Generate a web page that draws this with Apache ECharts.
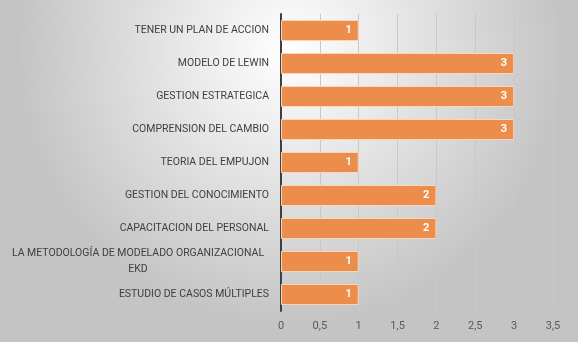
<!DOCTYPE html>
<html><head><meta charset="utf-8">
<script src="https://cdn.jsdelivr.net/npm/echarts@6/dist/echarts.min.js"></script>
<style>html,body{margin:0;padding:0;}#c{width:578px;height:342px;}</style>
</head><body><div id="c"></div>
<script>
const categories = [
  "ESTUDIO DE CASOS MÚLTIPLES",
  "LA METODOLOGÍA DE MODELADO ORGANIZACIONAL\nEKD",
  "CAPACITACION DEL PERSONAL",
  "GESTION DEL CONOCIMIENTO",
  "TEORIA DEL EMPUJON",
  "COMPRENSION DEL CAMBIO",
  "GESTION ESTRATEGICA",
  "MODELO DE LEWIN",
  "TENER UN PLAN DE ACCION"
];
const values = [1, 1, 2, 2, 1, 3, 3, 3, 1];
const xTicks = { min: 0, max: 3.5, interval: 0.5 };

const font = "Roboto, 'Liberation Sans', sans-serif";
const chart = echarts.init(document.getElementById('c'));
chart.setOption({
  backgroundColor: {
    type: 'radial', x: 0.5, y: 0.15, r: 0.8,
    colorStops: [{ offset: 0, color: '#ffffff' }, { offset: 1, color: '#c4c4c4' }]
  },
  grid: { left: 281, right: 25, top: 14, bottom: 31, containLabel: false, outerBoundsMode: 'none' },
  xAxis: {
    type: 'value', min: xTicks.min, max: xTicks.max, interval: xTicks.interval,
    axisLine: { show: false }, axisTick: { show: false },
    splitLine: { show: true, lineStyle: { color: '#c8c8c8', width: 1 } },
    axisLabel: {
      color: '#595959', fontSize: 11, fontFamily: font, margin: 10,
      formatter: v => String(v).replace('.', ',')
    }
  },
  yAxis: {
    type: 'category', data: categories,
    axisLine: { show: true, lineStyle: { color: '#404040', width: 2 } },
    axisTick: { show: false },
    axisLabel: {
      color: '#404040', fontSize: 10.5, fontFamily: font, margin: 12, lineHeight: 16,
      formatter: v => v.indexOf('\n') >= 0 ? v.split('\n').map(s => '{c|' + s + '}').join('\n') : v,
      rich: { c: { width: 262, align: 'center', overflow: 'none', fontSize: 10.5, fontFamily: font, color: '#404040', lineHeight: 16 } }
    }
  },
  series: [{
    type: 'bar', data: values, barWidth: 21,
    itemStyle: { color: '#ED8D4B', borderColor: '#F8D6BE', borderWidth: 1 },
    label: {
      show: true, position: 'insideRight', distance: 7,
      color: '#ffffff', fontWeight: 'bold', fontSize: 11, fontFamily: font
    }
  }]
});
</script></body></html>
